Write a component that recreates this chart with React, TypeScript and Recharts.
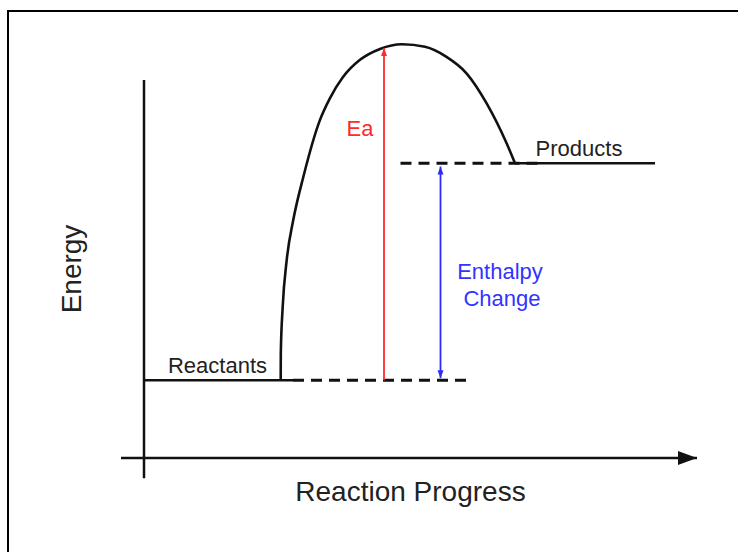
import { ComposedChart, Line, XAxis, YAxis, ReferenceLine, ReferenceDot } from 'recharts';

// reaction coordinate (x) and energy (y) of the hump
const progress = [27.34, 27.36, 27.74, 28.54, 29.86, 31.86, 35.2, 37.2, 39.8, 43.2, 47.2, 51.6, 56.2, 60.5, 64.5, 68.5, 72.5, 74.2];
const energy = [18.5, 25, 36, 47.1, 56.7, 66.9, 80.5, 85.7, 90.7, 94.8, 97.4, 98.5, 97.9, 95.5, 91.6, 84.5, 75, 70.2];

const reactantLevel = 18.5;
const productLevel = 70.2;
const reactantSpan = [0, 29.8];
const reactantGuide = [29.8, 65.2];
const productSpan = [74.2, 102.2];
const productGuide = [51.3, 79.8];

const eaX = 48;
const eaTop = 97.6;
const dhX = 59.3;

const curve = progress.map((x, i) => ({ x, y: energy[i] }));
const seg = (span: number[], y: number) => span.map((x) => ({ x, y }));

const FONT = '"Liberation Sans", Arial, sans-serif';
const INK = '#111';

type Pts = { x1?: number; y1?: number; x2?: number; y2?: number };

// line with arrowhead at the end (and optionally at the start)
const arrow =
  (color: string, width: number, head: number, half: number, both = false) =>
  (p: Pts) => {
    const x1 = Number(p.x1), y1 = Number(p.y1), x2 = Number(p.x2), y2 = Number(p.y2);
    const len = Math.hypot(x2 - x1, y2 - y1) || 1;
    const ux = (x2 - x1) / len, uy = (y2 - y1) / len;
    const tri = (tx: number, ty: number, dx: number, dy: number) => {
      const bx = tx - dx * head, by = ty - dy * head;
      return `${tx},${ty} ${bx - dy * half},${by + dx * half} ${bx + dy * half},${by - dx * half}`;
    };
    return (
      <g>
        <line x1={x1} y1={y1} x2={x2} y2={y2} stroke={color} strokeWidth={width} />
        <polygon points={tri(x2, y2, ux, uy)} fill={color} />
        {both && <polygon points={tri(x1, y1, -ux, -uy)} fill={color} />}
      </g>
    );
  };

const text = (value: string, x: number, y: number, color: string, size: number, angle = 0) => (
  <ReferenceDot
    x={x}
    y={y}
    r={0}
    fill="none"
    stroke="none"
    ifOverflow="visible"
    label={{ value, position: 'center', fill: color, fontSize: size, fontFamily: FONT, angle }}
  />
);

export default function App() {
  return (
    <div style={{ position: 'absolute', left: 0, top: 0, width: 738, height: 552, background: '#fff' }}>
      <div
        style={{
          position: 'absolute',
          left: 7,
          top: 10,
          width: 731,
          height: 542,
          borderTop: '2px solid #000',
          borderLeft: '2px solid #000',
          boxSizing: 'border-box',
        }}
      />
      <ComposedChart
        width={738}
        height={552}
        margin={{ top: 38, right: 44, bottom: 94, left: 144 }}
        style={{ position: 'absolute', left: 0, top: 0 }}
      >
        <XAxis type="number" dataKey="x" domain={[0, 110]} hide allowDataOverflow />
        <YAxis type="number" dataKey="y" domain={[0, 100]} hide allowDataOverflow />

        {/* axes */}
        <ReferenceLine
          segment={[{ x: -4.6, y: 0 }, { x: 110.6, y: 0 }]}
          ifOverflow="visible"
          shape={arrow(INK, 2.5, 19, 7)}
        />
        <ReferenceLine
          segment={[{ x: 0, y: -4.8 }, { x: 0, y: 90 }]}
          ifOverflow="visible"
          stroke={INK}
          strokeWidth={2.5}
        />

        {/* energy levels */}
        <Line data={seg(reactantSpan, reactantLevel)} dataKey="y" stroke={INK} strokeWidth={2.5} dot={false} isAnimationActive={false} />
        <Line data={seg(productSpan, productLevel)} dataKey="y" stroke={INK} strokeWidth={2.5} dot={false} isAnimationActive={false} />
        <Line data={seg(reactantGuide, reactantLevel)} dataKey="y" stroke={INK} strokeWidth={3} strokeDasharray="11 7" dot={false} isAnimationActive={false} />
        <Line data={seg(productGuide, productLevel)} dataKey="y" stroke={INK} strokeWidth={3} strokeDasharray="11 7" dot={false} isAnimationActive={false} />

        {/* the hump */}
        <Line data={curve} dataKey="y" type="monotone" stroke={INK} strokeWidth={2.6} dot={false} isAnimationActive={false} />

        {/* Ea and enthalpy change */}
        <ReferenceLine
          segment={[{ x: eaX, y: reactantLevel }, { x: eaX, y: eaTop }]}
          ifOverflow="visible"
          shape={arrow('#ff2a2a', 1.8, 8, 3)}
        />
        <ReferenceLine
          segment={[{ x: dhX, y: productLevel - 0.8 }, { x: dhX, y: reactantLevel + 0.5 }]}
          ifOverflow="visible"
          shape={arrow('#2b2bff', 1.8, 8, 3, true)}
        />

        {text('Reactants', 14.7, 22.1, '#222', 22)}
        {text('Products', 87, 73.8, '#222', 22)}
        {text('Ea', 43.2, 78.6, '#ff2a2a', 22)}
        {text('Enthalpy', 71.2, 44.5, '#3333ff', 22)}
        {text('Change', 71.6, 38.1, '#3333ff', 22)}
        {text('Reaction Progress', 53.3, -7.9, '#222', 28)}
        {text('Energy', -14.6, 45, '#222', 28, -90)}
      </ComposedChart>
    </div>
  );
}
